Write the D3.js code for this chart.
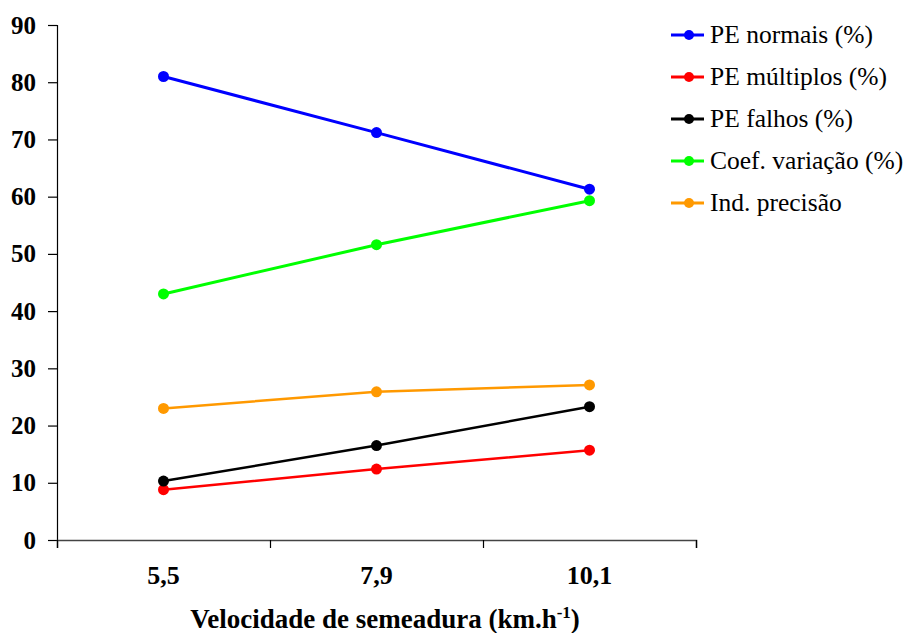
<!DOCTYPE html>
<html>
<head>
<meta charset="utf-8">
<script src="https://cdn.jsdelivr.net/npm/d3@7"></script>
</head>
<body style="margin:0; background:#fff">
<div id="chart-area"></div>
<script>
// categorias (velocidade) e series
var velocidades = ["5,5", "7,9", "10,1"];
var peNormais = [81.0, 71.2, 61.3];
var peMultiplos = [8.8, 12.4, 15.7];
var peFalhos = [10.3, 16.5, 23.3];
var coefVariacao = [43.0, 51.6, 59.3];
var indPrecisao = [23.0, 25.9, 27.1];
var yTicks = [0, 10, 20, 30, 40, 50, 60, 70, 80, 90];

var series = [
	{name: "PE normais (%)", values: peNormais, color: "#0000ff", w: 3},
	{name: "PE múltiplos (%)", values: peMultiplos, color: "#ff0000", w: 2.5},
	{name: "PE falhos (%)", values: peFalhos, color: "#000000", w: 2.5},
	{name: "Coef. variação (%)", values: coefVariacao, color: "#00ff00", w: 3},
	{name: "Ind. precisão", values: indPrecisao, color: "#ff9900", w: 2.5}
];

var width = 907;
var height = 633;
var serif = "'Liberation Serif'";

var svg = d3.select("#chart-area").append("svg")
	.attr("width", width)
	.attr("height", height);

var x = d3.scaleBand()
	.domain(velocidades)
	.range([57, 696])
	.padding(0);

var xEdges = d3.scaleLinear()
	.domain([0, velocidades.length])
	.range([57, 696]);

var y = d3.scaleLinear()
	.domain([0, 90])
	.range([540, 25]);

// eixo y
var leftAxis = d3.axisLeft(y).tickValues(yTicks).tickSize(9).tickPadding(12);
var gy = svg.append("g")
	.attr("class", "leftAxis")
	.attr("transform", "translate(57, 0)")
	.call(leftAxis);
gy.select(".domain").attr("stroke", "#000").attr("stroke-width", 1.2);
gy.selectAll(".tick line").attr("stroke", "#000").attr("stroke-width", 1.2);
gy.selectAll("text")
	.style("font-family", serif)
	.style("font-size", "25px")
	.style("font-weight", "bold")
	.attr("fill", "#000");

// eixo x (marcas nas bordas das categorias)
var bottomAxis = d3.axisBottom(xEdges)
	.tickValues(d3.range(velocidades.length + 1))
	.tickSize(8)
	.tickFormat("");
var gx = svg.append("g")
	.attr("class", "bottomAxis")
	.attr("transform", "translate(0, 540)")
	.call(bottomAxis);
gx.select(".domain").attr("stroke", "#444").attr("stroke-width", 1.5);
gx.selectAll(".tick line").attr("stroke", "#000").attr("stroke-width", 1.2);

svg.append("g")
	.selectAll("text")
	.data(velocidades)
	.enter()
	.append("text")
		.attr("x", d => x(d) + x.bandwidth() / 2)
		.attr("y", 584)
		.attr("text-anchor", "middle")
		.style("font-family", serif)
		.style("font-size", "26px")
		.style("font-weight", "bold")
		.text(d => d);

var title = svg.append("text")
	.attr("x", 385)
	.attr("y", 628)
	.attr("text-anchor", "middle")
	.style("font-family", serif)
	.style("font-size", "27px")
	.style("font-weight", "bold");
title.append("tspan").text("Velocidade de semeadura (km.h");
title.append("tspan").style("font-size", "17px").attr("dy", -10).text("-1");
title.append("tspan").attr("dy", 10).text(")");

// linhas
var line = d3.line()
	.x((d, i) => x(velocidades[i]) + x.bandwidth() / 2)
	.y(d => y(d));

var gs = svg.selectAll(".serie")
	.data(series)
	.enter()
	.append("g")
	.attr("class", "serie");

gs.append("path")
	.attr("d", d => line(d.values))
	.attr("fill", "none")
	.attr("stroke", d => d.color)
	.attr("stroke-width", d => d.w);

gs.selectAll("circle")
	.data(d => d.values.map(v => ({v: v, color: d.color})))
	.enter()
	.append("circle")
		.attr("cx", (d, i) => x(velocidades[i]) + x.bandwidth() / 2)
		.attr("cy", d => y(d.v))
		.attr("r", 5.5)
		.attr("fill", d => d.color);

// legenda
var legend = svg.append("g")
	.selectAll("g")
	.data(series)
	.enter()
	.append("g")
	.attr("transform", (d, i) => "translate(671, " + (35 + i * 42) + ")");

legend.append("line")
	.attr("x1", 0).attr("x2", 33)
	.attr("stroke", d => d.color)
	.attr("stroke-width", 3);
legend.append("circle")
	.attr("cx", 18)
	.attr("r", 5)
	.attr("fill", d => d.color);
legend.append("text")
	.attr("x", 39)
	.attr("y", 8)
	.style("font-family", serif)
	.style("font-size", "25.5px")
	.attr("fill", "#000")
	.text(d => d.name);
</script>
</body>
</html>
